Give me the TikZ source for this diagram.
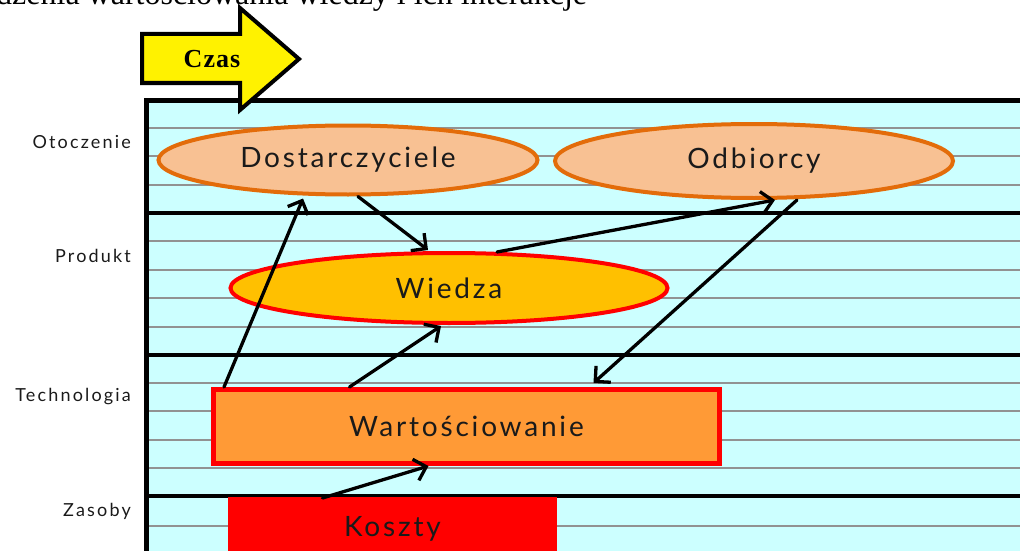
\documentclass[tikz,border=0pt]{standalone}
\usepackage{fontspec}
\setmainfont{Liberation Serif}
\newfontfamily\lblfont[LetterSpace=10]{Lato}
\newfontfamily\rowfont[LetterSpace=12]{Lato}
\newfontfamily\czasfont[LetterSpace=4]{Liberation Serif}
\usetikzlibrary{shapes.geometric,arrows.meta}

\definecolor{bgcyan}{HTML}{CCFFFF}
\definecolor{rulegray}{HTML}{929292}
\definecolor{peach}{HTML}{F8C193}
\definecolor{orangeline}{HTML}{E36C0A}
\definecolor{gold}{HTML}{FFC000}
\definecolor{tangerine}{HTML}{FF9A36}
\definecolor{inkgray}{HTML}{1A1A1A}

\tikzset{
  band/.style={line width=4.5pt, black},
  subrule/.style={line width=1.3pt, rulegray},
  boxtext/.style={text=inkgray, font=\lblfont\fontsize{28}{28}\selectfont},
  partner/.style={ellipse, draw=orangeline, fill=peach, line width=4pt, inner sep=0pt, boxtext},
  core/.style={ellipse, draw=red, fill=gold, line width=4pt, inner sep=0pt, boxtext},
  process/.style={rectangle, draw=red, fill=tangerine, line width=5pt, inner sep=0pt, boxtext},
  cost/.style={rectangle, fill=red, inner sep=0pt, boxtext},
  rowlabel/.style={anchor=east, inner sep=0pt, text=inkgray,
    font=\rowfont\fontsize{18}{18}\selectfont},
  flow/.style={line width=3.3pt, black, line cap=round,
    -{Straight Barb[length=11pt,width=22pt,line width=3.3pt]}},
}

\begin{document}
\begin{tikzpicture}[x=1pt, y=-1pt]
  \clip (0,0) rectangle (1020,551);

  % caption line running above the page edge
  \node[anchor=base west, inner sep=0pt, font=\fontsize{32}{32}\selectfont]
    (caption) at (-4,5) {dzenia wartościowania wiedzy i ich interakcje};

  % swim-lane background
  \fill[bgcyan] (146,100) rectangle (1040,570);
  \foreach \yy in {128,156,185, 241,270,298,327, 383,411,440,468, 526}
    \draw[subrule] (146,\yy) -- (1040,\yy);
  \foreach \yy in {213,355,496}
    \draw[band] (146,\yy) -- (1040,\yy);
  \draw[line width=5pt, black] (146,570) -- (146,100) -- (1040,100);

  % row labels
  \node[rowlabel] (lotoczenie) at (131,142) {Otoczenie};
  \node[rowlabel] (lprodukt) at (131,256) {Produkt};
  \node[rowlabel] (ltechnologia) at (131,397) {Technologia};
  \node[rowlabel] (lzasoby) at (131,511) {Zasoby};

  % time arrow
  \draw[line width=4pt, black, fill=yellow, line join=miter]
    (142,34) -- (240,34) -- (240,8) -- (299,59) -- (240,110) -- (240,83) -- (142,83) -- cycle;
  \node[inner sep=0pt, font=\czasfont\bfseries\fontsize{26}{26}\selectfont] (czas) at (212,59) {Czas};

  % diagram elements
  \node[partner, minimum width=379pt, minimum height=69pt] (dost) at (348,160) {Dostarczyciele};
  \node[partner, minimum width=398pt, minimum height=74pt] (odb) at (754,161) {Odbiorcy};
  \node[core, minimum width=437pt, minimum height=70pt] (wied) at (449,288) {Wiedza};
  \node[process, minimum width=506pt, minimum height=74pt] (wart) at (466.5,426.5) {Wartościowanie};
  \node[cost, anchor=north, minimum width=329pt, minimum height=64pt] (kosz) at (392.5,497) {Koszty};

  % flows
  \draw[flow] ([xshift=13pt]wart.north west) -- ([xshift=-45pt,yshift=-2pt]dost.south);
  \draw[flow] ([xshift=10pt]dost.south) -- ([xshift=-21pt,yshift=1pt]wied.north);
  \draw[flow] ([xshift=48pt,yshift=-1pt]wied.north) -- ([xshift=21pt]odb.south);
  \draw[flow] ([xshift=43pt]odb.south) -- ([xshift=127pt,yshift=4pt]wart.north);
  \draw[flow] ([xshift=-117pt]wart.north) -- ([xshift=-8pt,yshift=-1pt]wied.south);
  \draw[flow] ([xshift=-70pt,yshift=-1pt]kosz.north) -- ([xshift=-38pt]wart.south);
\end{tikzpicture}
\end{document}
